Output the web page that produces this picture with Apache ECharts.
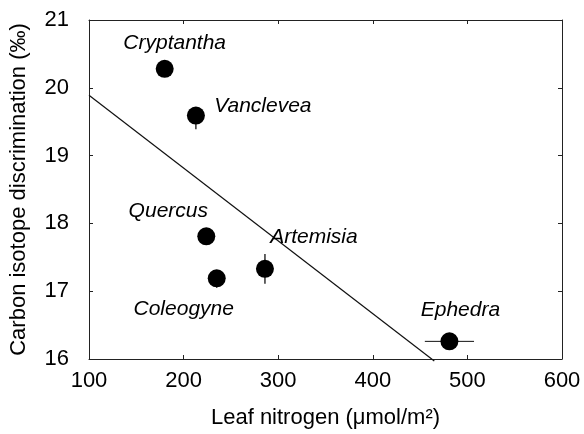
<!DOCTYPE html>
<html>
<head>
<meta charset="utf-8">
<script src="https://cdn.jsdelivr.net/npm/echarts@6/dist/echarts.min.js"></script>
<style>
html,body{margin:0;padding:0;background:#fff;}
#chart{width:584px;height:434px;}
</style>
</head>
<body>
<div id="chart"></div>
<script>
// ---- data ----
var species = ['Cryptantha', 'Vanclevea', 'Quercus', 'Coleogyne', 'Artemisia', 'Ephedra'];
var leafN = [180, 213, 224, 235, 286, 481];
var discrim = [20.28, 19.59, 17.81, 17.19, 17.33, 16.26];
var yErrLow = [0, 0.2, 0, 0.14, 0.22, 0];
var yErrHigh = [0, 0, 0, 0, 0.22, 0];
var xErr = [0, 0, 0, 0, 0, 26];
var fitX = [100, 465];
var fitY = [19.89, 15.97];
var xTicks = [100, 200, 300, 400, 500, 600];
var yTicks = [16, 17, 18, 19, 20, 21];

// ---- styling (label placement relative to the marker, px) ----
var labelOffset = {
  'Cryptantha': [10, -26],
  'Vanclevea': [67, -9],
  'Quercus': [-38, -25],
  'Coleogyne': [-33, 31],
  'Artemisia': [49, -32],
  'Ephedra': [11, -31]
};

var FONT = '"Liberation Sans", Arial, Helvetica, sans-serif';
var AX = '#222';

var points = species.map(function (s, i) {
  return {
    name: s,
    value: [leafN[i], discrim[i]],
    label: { offset: labelOffset[s] }
  };
});
var errData = species.map(function (s, i) {
  return [leafN[i], discrim[i], xErr[i], yErrLow[i], yErrHigh[i]];
});
var fitData = fitX.map(function (x, i) { return [x, fitY[i]]; });

function axisCommon(showLabels, pos, isX) {
  return {
    type: 'value',
    position: pos,
    min: isX ? xTicks[0] : yTicks[0],
    max: isX ? xTicks[xTicks.length - 1] : yTicks[yTicks.length - 1],
    interval: isX ? 100 : 1,
    axisLine: { show: true, onZero: false, lineStyle: { color: AX, width: 1 } },
    axisTick: { show: true, inside: true, length: 4, lineStyle: { color: AX } },
    splitLine: { show: false },
    axisLabel: {
      show: showLabels,
      color: '#000',
      fontFamily: FONT,
      fontSize: 22,
      margin: isX ? 11 : 20
    }
  };
}

var xMain = axisCommon(true, 'bottom', true);
xMain.name = 'Leaf nitrogen (\u03bcmol/m\u00b2)';
xMain.nameLocation = 'middle';
xMain.nameGap = 48;
xMain.nameTextStyle = { color: '#000', fontFamily: FONT, fontSize: 22 };
var xTop = axisCommon(false, 'top', true);

var yMain = axisCommon(true, 'left', false);
yMain.name = 'Carbon isotope discrimination (\u2030)';
yMain.nameLocation = 'middle';
yMain.nameGap = 59;
yMain.nameTextStyle = { color: '#000', fontFamily: FONT, fontSize: 22 };
var yRight = axisCommon(false, 'right', false);

var chart = echarts.init(document.getElementById('chart'), null, { renderer: 'canvas' });
chart.setOption({
  animation: false,
  backgroundColor: '#fff',
  grid: { left: 89, right: 22, top: 20, bottom: 74 },
  xAxis: [xMain, xTop],
  yAxis: [yMain, yRight],
  series: [
    {
      type: 'line',
      data: fitData,
      symbol: 'none',
      clip: false,
      lineStyle: { color: '#111', width: 1.2 },
      z: 2
    },
    {
      type: 'custom',
      data: errData,
      z: 3,
      renderItem: function (params, api) {
        var x = api.value(0), y = api.value(1);
        var xe = api.value(2), yl = api.value(3), yh = api.value(4);
        var children = [];
        if (xe > 0) {
          var a = api.coord([x - xe, y]), b = api.coord([x + xe, y]);
          children.push({ type: 'line', shape: { x1: a[0], y1: a[1], x2: b[0], y2: b[1] }, style: { stroke: '#111', lineWidth: 1 } });
        }
        if (yl > 0 || yh > 0) {
          var c = api.coord([x, y - yl]), d = api.coord([x, y + yh]);
          children.push({ type: 'line', shape: { x1: c[0], y1: c[1], x2: d[0], y2: d[1] }, style: { stroke: '#111', lineWidth: 1.3 } });
        }
        return { type: 'group', children: children };
      }
    },
    {
      type: 'scatter',
      data: points,
      symbol: 'circle',
      symbolSize: 18,
      itemStyle: { color: '#000', opacity: 1 },
      z: 4,
      label: {
        show: true,
        position: 'inside',
        align: 'center',
        verticalAlign: 'middle',
        formatter: '{b}',
        color: '#000',
        fontStyle: 'italic',
        fontFamily: FONT,
        fontSize: 21
      },
      emphasis: { disabled: true }
    }
  ]
});
</script>
</body>
</html>
